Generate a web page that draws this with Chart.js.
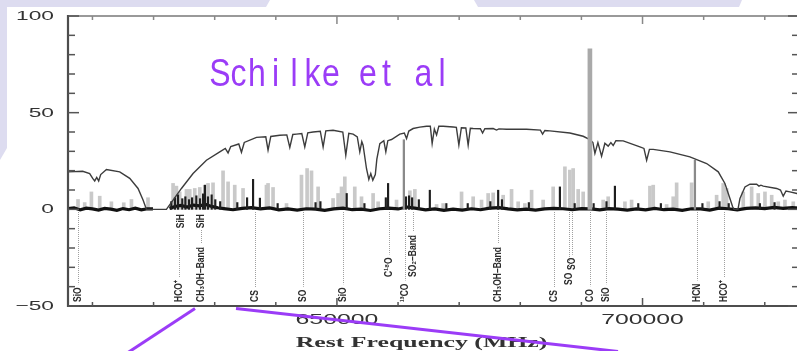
<!DOCTYPE html>
<html>
<head>
<meta charset="utf-8">
<script src="https://cdn.jsdelivr.net/npm/chart.js@4.4.1/dist/chart.umd.min.js"></script>
<style>
  html, body { margin: 0; padding: 0; background: #fff; overflow: hidden; width: 797px; height: 351px; }
  #wrap { position: absolute; left: 0; top: 0; width: 806px; height: 351px; }
  canvas { display: block; }
</style>
</head>
<body>
<div id="wrap"><canvas id="spec" width="806" height="351"></canvas></div>
<script>
// ---- Atmospheric transmission (%) versus rest frequency (MHz) ----
const transFreq = [606000, 608400, 609550, 610040, 610370, 610700, 611020, 611350, 612290, 614460,
  616100, 617460, 618280, 618830, 622100, 623190, 624560, 626460, 628650, 630830,
  631730, 632190, 632630, 633940, 634380, 634840, 636840, 638360, 638730, 639180,
  640650, 641800, 642290, 642780, 643380, 644250, 644740, 645230, 646100, 647280,
  647740, 648180, 649370, 650960, 651450, 651940, 652650, 653330, 653740, 654070,
  654280, 654840, 655220, 655540, 655870, 656280, 656530, 657020, 657670, 658000,
  658330, 658930, 660290, 661030, 661390, 661760, 662470, 663560, 664660, 665280,
  665580, 665940, 666300, 666670, 667380, 669010, 669540, 669950, 670360, 671090,
  671470, 671830, 672290, 673470, 673830, 674200, 675560, 676120, 676490, 677750,
  681030, 683290, 683650, 684020, 684840, 688110, 690290, 691390, 691880, 692210,
  692700, 693300, 693840, 694380, 694820, 695200, 695640, 696840, 699570, 700230,
  700670, 701130, 701750, 704480, 707750, 710490, 712390, 713480, 714300, 714740,
  714960, 715610, 715940, 716760, 717570, 718670, 719050, 719370, 719750, 721940,
  722570, 723020, 723470, 724120, 725270, 726000];
const transPct = [19.4, 19.7, 18.5, 16, 14.7, 16.5, 14.7, 18, 20.6, 19.4,
  16, 10.8, 4.8, 0, 0, 4.8, 10.8, 18.5, 25.4, 29.7,
  31.5, 29.2, 32.5, 33.8, 29.5, 34.6, 37.2, 37.5, 30.6, 37.7,
  38.3, 38.5, 32, 38.7, 38.9, 39.2, 32.3, 39.6, 40, 40.4,
  32.3, 40.6, 40.9, 40, 28, 39.3, 38.9, 37.5, 29.7, 35,
  33.2, 21, 15.5, 18.5, 15.1, 18, 26, 34, 35.5, 29.7,
  35.5, 36.1, 38.9, 39.5, 36.6, 40.5, 41.8, 42.5, 43, 43,
  34, 41.5, 38.5, 43, 43, 42.6, 42.4, 33.2, 42.2, 42.1,
  33.2, 41.9, 41.8, 41.7, 39.5, 41.7, 41.8, 41, 41.6, 41.4,
  41.4, 41, 38.9, 40.8, 40.6, 39.5, 37.8, 36.1, 34.5, 28.9,
  34.5, 27.5, 34.2, 32.7, 34.5, 33, 35.5, 35.4, 32.3, 31.5,
  25.4, 31, 31, 29.7, 27.1, 23.7, 19.4, 13.4, 5.6, 1.3,
  0, 0, 5.6, 11.6, 13, 13, 12, 12.5, 12, 10.8,
  10, 6.8, 9.5, 9, 8.2, 8];

// ---- Spectrum: weak (light) line peaks ----
const weakLineFreq = [607640, 608730, 609830, 611190, 613100, 615120, 616380, 619090,
  623190, 623740, 624280, 625380, 625920, 626740, 627560, 628370, 628910, 629730,
  631370, 632190, 633280, 634640, 638470, 638730, 639550, 641750, 644200, 645120,
  645840, 646920, 649370, 650190, 650750, 651290, 652920, 654020, 655920, 656740,
  659750, 661930, 662750, 666300, 667380, 670390, 672290, 673660, 674740, 675560,
  677200, 678570, 679650, 680750, 681850, 683740, 685380, 687300, 688110, 688650,
  689470, 690290, 693560, 694380, 697120, 698210, 701210, 701750, 703940, 705020,
  705580, 708030, 710750, 712120, 713200, 713760, 716480, 717850, 718930, 720030,
  721130, 722210, 723300, 724660];
const weakLineInt = [5.1, 3.5, 9, 6.8, 3.9, 3.4, 5.1, 6,
  13.4, 12, 9, 10.3, 10.3, 10.8, 11.3, 12.5, 13.4, 13.7,
  19.9, 14.2, 12.5, 10.8, 12.5, 13.4, 11.3, 3, 17.7, 21.1,
  19.9, 11.6, 5.6, 8.2, 11.6, 16.8, 11.6, 6.5, 8.2, 3.9,
  4.8, 9.6, 10.3, 2.5, 3, 9, 6.5, 4.8, 8.2, 8.5,
  7.3, 10.3, 3.9, 3, 9.9, 4.8, 11.6, 22, 20.3, 21.1,
  10.3, 9, 4.8, 6.5, 3.9, 4.8, 12, 12.5, 2.5, 6.5,
  13.7, 13.7, 3.9, 7.3, 13.4, 10.8, 9, 11.6, 8.2, 9,
  7.3, 3.9, 4.8, 3.9];

// ---- Spectrum: strong (dark) line peaks ----
const darkLineFreq = [622900, 623500, 624000, 624700, 625200, 625800, 626300, 627000, 627600,
  628100, 628400, 628900, 629500, 630100, 630900, 633700, 635300, 636280, 637400,
  640300, 646500, 647300, 651600, 654500, 658000, 658370, 661300, 661800, 662300,
  663400, 665200, 667900, 671400, 675100, 676380, 677000, 681400, 686480, 688900,
  692000, 694100, 695480, 699300, 703000, 709800, 712600, 714100, 719200, 721600];
const darkLineInt = [4, 6, 7.5, 5.5, 6.5, 5, 6, 7, 5.5,
  8, 12.5, 6.5, 7.5, 5, 4, 3.5, 6, 15.5, 5.8,
  3, 3.5, 4, 8.2, 3, 6, 13.4, 6.5, 7, 6,
  5, 9.9, 3, 3, 4, 9.9, 5, 3.5, 11.6, 3,
  3, 4, 12, 3, 3, 3, 4, 3, 3, 3.5];

// ---- Isotopologue lines (13CO, HCN) and the CO 6-5 line ----
const isoLineFreq = [660950, 708570];
const isoLineInt = [36, 25.4];
const coLineFreq = [691390];
const coLineInt = [83];

// ---- Noise baseline of the spectrum (null = no data) ----
const baseFreq = [606000, 607000, 608000, 609000, 610000, 611000, 612000, 613000, 614000, 615000,
  616000, 617000, 618000, 619000, 619900, 621000,
  622600, 623500, 624500, 625500, 626500, 627500, 628500, 629500, 630500, 631500,
  633000, 634500, 636000, 637500, 639000, 640500, 642000, 643500, 645000, 646500,
  648000, 649500, 651000, 652500, 654000, 655500, 657000, 658500, 660000, 661500,
  663000, 664500, 666000, 667500, 669000, 670500, 672000, 673500, 675000, 676500,
  678000, 679500, 681000, 682500, 684000, 685500, 687000, 688500, 690000, 691500,
  693000, 694500, 696000, 697500, 699000, 700500, 702000, 703500, 705000, 706500,
  708000, 709500, 711000, 712500, 714000, 715500, 717000, 718500, 720000, 721500,
  723000, 724500, 726000];
const baseInt = [0.4, 0.8, -0.3, 0.6, 0.2, -0.4, 0.5, 0.1, -0.5, 0.4,
  -0.2, 0.6, -0.3, 0.3, 0.2, null,
  0.5, 1.5, 2, 1.2, 2.2, 1.8, 2.5, 1.5, 0.8, 0.4,
  -0.2, 0.5, 0.9, 0.2, 0.7, -0.3, 0.2, -0.4, 0.3, 0.1,
  -0.5, 0.2, 0.6, -0.2, 0.1, -0.6, 0.3, 0.6, 0.2, 1.2,
  0.5, -0.3, 0.2, -0.5, 0.1, -0.4, 0.3, -0.2, 0.6, 0.9,
  0.2, -0.3, 0.1, -0.4, 0.2, 0.5, 0.3, -0.2, 0.4, 0.2,
  -0.3, 0.4, 0.1, -0.4, 0.2, -0.3, 0.5, -0.2, 0.1, -0.5,
  0.3, 0.2, -0.4, 0.6, 0.3, -0.3, 0.5, 0.8, 0.4, 1,
  0.5, 0.9, 0.6];

// ---- Line identifications ----
const speciesFreq = [607610, 624210, 624500, 627800, 627800, 636530, 644370, 650960, 658550, 661070,
  662470, 676380, 685440, 688000, 688400, 691470, 694050, 708880, 713340];
const speciesName = ['SiO', 'HCO\u207A', 'SiH', 'SiH', 'CH\u2083OH\u2013Band', 'CS', 'SO', 'SiO', 'C\u00B9\u2078O', '\u00B9\u00B3CO',
  'SO\u2082\u2013Band', 'CH\u2083OH\u2013Band', 'CS', 'SO', 'SO', 'CO', 'SiO', 'HCN', 'HCO\u207A'];

// ---- Axis ticks ----
const xTickMarks = [610000, 620000, 630000, 640000, 650000, 660000, 670000, 680000, 690000, 700000, 710000, 720000];
const xTickLabels = [650000, 700000];
const yTickMarks = [-50, -40, -30, -20, -10, 0, 10, 20, 30, 40, 50, 60, 70, 80, 90, 100];
const yTickLabels = [-50, 0, 50, 100];

const xTitle = 'Rest Frequency (MHz)';
const credit = 'Schilke et al';

const pts = (xs, ys) => xs.map((x, i) => ({ x, y: ys[i] }));

// label stacking below the baseline: 'top' hangs under the spectrum, numbers lift a label (px)
const labelLift = [0, 0, 'top', 'top', 0, 0, 0, 0, 25, 0, 25, 0, 0, 17, 32, 0, 0, 0, 0];

const LAVENDER = '#dddcf0';
const PURPLE = '#9b3cf7';

const backdrop = {
  id: 'backdrop',
  beforeDraw(chart) {
    const ctx = chart.ctx;
    ctx.save();
    ctx.fillStyle = '#fff';
    ctx.fillRect(0, 0, chart.width, chart.height);
    ctx.fillStyle = LAVENDER;
    ctx.beginPath();
    ctx.moveTo(0, 0); ctx.lineTo(270, 0); ctx.lineTo(266, 7); ctx.lineTo(7, 7);
    ctx.lineTo(7, 148); ctx.lineTo(0, 160); ctx.closePath(); ctx.fill();
    ctx.beginPath();
    ctx.moveTo(474, 0); ctx.lineTo(742, 0); ctx.lineTo(739, 7); ctx.lineTo(478, 7);
    ctx.closePath(); ctx.fill();
    ctx.restore();
  }
};

function stretched(ctx, txt, x, y, sx) {
  ctx.save();
  ctx.translate(x, y);
  ctx.scale(sx, 1);
  ctx.fillText(txt, 0, 0);
  ctx.restore();
}

function seg(ctx, x1, y1, x2, y2) {
  ctx.beginPath(); ctx.moveTo(x1, y1); ctx.lineTo(x2, y2); ctx.stroke();
}

function upright(ctx, txt, x, y, sx) {
  ctx.save();
  ctx.translate(x, y);
  ctx.scale(sx, 1);
  ctx.rotate(-Math.PI / 2);
  ctx.textAlign = 'left';
  ctx.textBaseline = 'middle';
  ctx.fillText(txt, 0, 0);
  ctx.restore();
}

const frame = {
  id: 'frame',
  afterDatasetsDraw(chart) {
    const { ctx, chartArea: a, scales: { x, y } } = chart;
    ctx.save();

    // plot frame
    ctx.strokeStyle = '#777';
    ctx.lineWidth = 1.4;
    seg(ctx, a.left, a.top, a.right, a.top);
    ctx.strokeStyle = '#4d4d4d';
    ctx.lineWidth = 2.2;
    ctx.beginPath();
    ctx.moveTo(a.left, a.top - 1); ctx.lineTo(a.left, a.bottom);
    ctx.lineTo(a.right, a.bottom); ctx.lineTo(a.right, a.top);
    ctx.stroke();

    // inward tick marks
    ctx.lineWidth = 1.5;
    ctx.strokeStyle = '#555';
    for (const v of yTickMarks) {
      const py = y.getPixelForValue(v);
      const len = yTickLabels.includes(v) ? 11 : 7;
      seg(ctx, a.left, py, a.left + len, py);
      seg(ctx, a.right, py, a.right - len, py);
    }
    for (const v of xTickMarks) {
      const px = x.getPixelForValue(v);
      const len = xTickLabels.includes(v) ? 8 : 4;
      ctx.strokeStyle = '#555';
      seg(ctx, px, a.bottom, px, a.bottom - len);
      ctx.strokeStyle = '#888';
      seg(ctx, px, a.top, px, a.top + len);
    }

    // tick labels
    ctx.fillStyle = '#333';
    ctx.font = '13px "Liberation Sans", Arial, sans-serif';
    ctx.textAlign = 'right';
    ctx.textBaseline = 'middle';
    for (const v of yTickLabels) {
      const txt = v < 0 ? '\u2212' + Math.abs(v) : String(v);
      stretched(ctx, txt, 54, y.getPixelForValue(v) + 0.5, 1.75);
    }
    ctx.font = '14px "Liberation Sans", Arial, sans-serif';
    ctx.textAlign = 'center';
    for (const v of xTickLabels) {
      stretched(ctx, String(v), x.getPixelForValue(v), 320.5, 1.77);
    }
    ctx.font = 'bold 15px "Liberation Serif", "Times New Roman", serif';
    ctx.textBaseline = 'alphabetic';
    stretched(ctx, xTitle, 421.5, 346.5, 1.72);

    // line identifications
    ctx.font = 'bold 8.5px "Liberation Sans", Arial, sans-serif';
    const base = 302, dotTop = 212, sx = 1.3;
    const tops = [];
    speciesFreq.forEach((f, i) => {
      const px = x.getPixelForValue(f);
      const w = ctx.measureText(speciesName[i]).width;
      const lift = labelLift[i];
      if (lift === 'top') { tops.push([px, speciesName[i], w]); return; }
      const y0 = base - lift;
      ctx.save();
      ctx.strokeStyle = '#a0a0a0';
      ctx.lineWidth = 1;
      ctx.setLineDash([1, 1]);
      seg(ctx, Math.round(px) + 0.5, dotTop, Math.round(px) + 0.5, y0 - w - 3);
      ctx.restore();
      ctx.fillStyle = '#2b2b2b';
      upright(ctx, speciesName[i], px, y0, sx);
    });
    for (const [px, name, w] of tops) {
      ctx.fillStyle = '#fff';
      ctx.fillRect(px - 5, dotTop, 10, w + 3);
      ctx.fillStyle = '#2b2b2b';
      upright(ctx, name, px, dotTop + w + 2, sx);
    }

    // credit, set in evenly spaced condensed letters, and pointer strokes
    ctx.fillStyle = PURPLE;
    ctx.font = '39px "Liberation Sans", Arial, sans-serif';
    ctx.textAlign = 'center';
    ctx.textBaseline = 'alphabetic';
    [...credit].forEach((ch, i) => stretched(ctx, ch, 220 + i * 18.5, 86, 0.82));
    ctx.strokeStyle = PURPLE;
    ctx.lineWidth = 3;
    seg(ctx, 195, 308.5, 128, 352.5);
    seg(ctx, 236, 308.5, 618, 351.5);

    ctx.restore();
  }
};

new Chart(document.getElementById('spec'), {
  type: 'line',
  data: {
    datasets: [
      { type: 'bar', label: 'weak lines', data: pts(weakLineFreq, weakLineInt),
        backgroundColor: '#c9c9c9', barThickness: 3, grouped: false, order: 6 },
      { type: 'line', label: 'baseline', data: pts(baseFreq, baseInt),
        borderColor: '#111', borderWidth: 3.2, pointRadius: 0, tension: 0, spanGaps: false, order: 4 },
      { type: 'bar', label: 'strong lines', data: pts(darkLineFreq, darkLineInt),
        backgroundColor: '#1e1e1e', barThickness: 1.5, grouped: false, order: 3 },
      { type: 'bar', label: 'isotopologues', data: pts(isoLineFreq, isoLineInt),
        backgroundColor: '#8a8a8a', barThickness: 1.6, grouped: false, order: 2 },
      { type: 'line', label: 'transmission', data: pts(transFreq, transPct),
        borderColor: '#3c3c3c', borderWidth: 1.4, pointRadius: 0, tension: 0, order: 1 },
      { type: 'bar', label: 'CO 6-5', data: pts(coLineFreq, coLineInt),
        backgroundColor: '#a9a9a9', barThickness: 4, grouped: false, order: 0 }
    ]
  },
  options: {
    responsive: false,
    animation: false,
    devicePixelRatio: 1,
    layout: { padding: { left: 68, right: 7, top: 16, bottom: 45 } },
    scales: {
      x: { type: 'linear', min: 606000, max: 725600, display: false, offset: false },
      y: { type: 'linear', min: -50, max: 100, display: false }
    },
    plugins: { legend: { display: false }, tooltip: { enabled: false } }
  },
  plugins: [backdrop, frame]
});
</script>
</body>
</html>
